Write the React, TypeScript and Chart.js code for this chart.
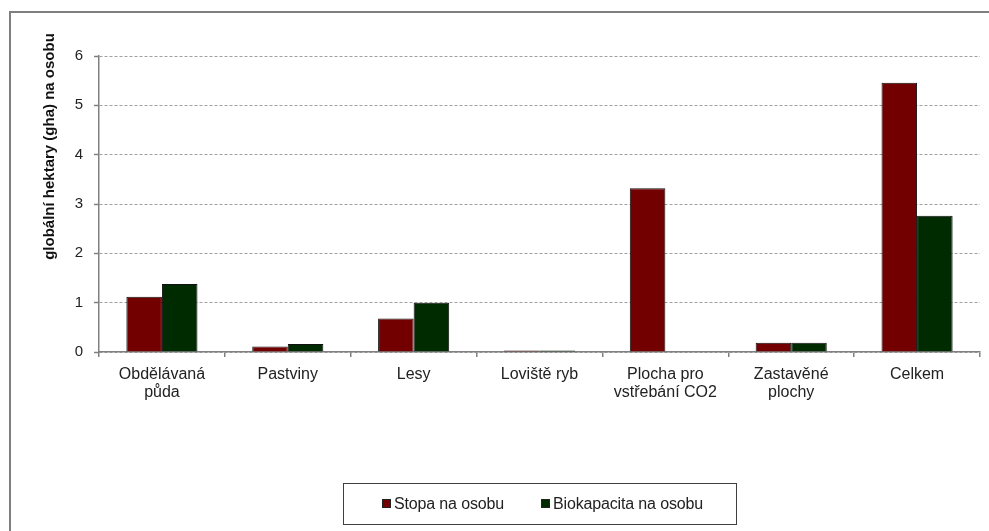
import React, { useEffect, useRef } from "react";
import { Chart, registerables } from "chart.js";

Chart.register(...registerables);

const categories: (string | string[])[] = [
  ["Obdělávaná", "půda"],
  "Pastviny",
  "Lesy",
  "Loviště ryb",
  ["Plocha pro", "vstřebání CO2"],
  ["Zastavěné", "plochy"],
  "Celkem",
];
const stopa = [1.12, 0.11, 0.68, 0.03, 3.32, 0.19, 5.46];
const biokapacita = [1.38, 0.16, 1.0, 0.03, 0, 0.19, 2.76];
const seriesNames = ["Stopa na osobu", "Biokapacita na osobu"];
const yTitle = "globální hektary (gha) na osobu";
const yMin = 0;
const yMax = 6;
const yStep = 1;

const RED = "#720000";
const GREEN = "#002a00";
const FONT = "'Liberation Sans', Arial, sans-serif";

export default function App() {
  const ref = useRef<HTMLCanvasElement | null>(null);

  useEffect(() => {
    if (!ref.current) return;
    const titlePlugin = {
      id: "yTitle",
      afterDraw(chart: any) {
        const ctx = chart.ctx;
        ctx.save();
        ctx.translate(50, 146.5);
        ctx.rotate(-Math.PI / 2);
        ctx.font = `bold 15px ${FONT}`;
        ctx.fillStyle = "#111";
        ctx.textAlign = "center";
        ctx.textBaseline = "middle";
        ctx.fillText(yTitle, 0, 0);
        ctx.restore();
      },
    };
    const chart = new Chart(ref.current, {
      type: "bar",
      data: {
        labels: categories,
        datasets: [
          {
            label: seriesNames[0],
            data: stopa,
            backgroundColor: RED,
            borderColor: "#111",
            borderWidth: 1,
          },
          {
            label: seriesNames[1],
            data: biokapacita,
            backgroundColor: GREEN,
            borderColor: "#111",
            borderWidth: 1,
          },
        ],
      },
      options: {
        animation: false,
        responsive: false,
        maintainAspectRatio: false,
        devicePixelRatio: 1,
        datasets: { bar: { categoryPercentage: 0.565, barPercentage: 1 } },
        layout: { padding: { left: 0, top: 56, right: 9, bottom: 0 } },
        plugins: { legend: { display: false }, tooltip: { enabled: false }, title: { display: false } },
        scales: {
          x: {
            afterFit(scale: any) {
              scale.height = 179;
            },
            grid: {
              offset: true,
              drawOnChartArea: false,
              drawTicks: true,
              tickLength: 5,
              color: "#808080",
              lineWidth: 1.5,
            },
            border: { color: "#808080", width: 1.5 },
            ticks: {
              padding: 9,
              color: "#222",
              maxRotation: 0,
              autoSkip: false,
              font: { family: FONT, size: 16, lineHeight: 1.1 },
            },
          },
          y: {
            min: yMin,
            max: yMax,
            afterFit(scale: any) {
              scale.width = 99;
            },
            grid: {
              color: "#a0a0a0",
              lineWidth: 1,
              drawTicks: true,
              tickLength: 5,
              tickColor: "#808080",
              tickWidth: 1.5,
              tickBorderDash: [],
            },
            border: { color: "#808080", width: 1.5, dash: [3, 2] },
            ticks: {
              stepSize: yStep,
              padding: 11,
              color: "#222",
              font: { family: FONT, size: 15 },
            },
          },
        },
      },
      plugins: [titlePlugin],
    });
    return () => chart.destroy();
  }, []);

  const swatch = (c: string) => ({
    display: "inline-block",
    width: 7,
    height: 7,
    background: c,
    border: "1px solid #222",
    marginRight: 3,
    verticalAlign: "middle",
    position: "relative" as const,
    top: -1,
  });

  return (
    <div
      style={{
        position: "fixed",
        left: 0,
        top: 0,
        width: 989,
        height: 531,
        overflow: "hidden",
        background: "#fff",
        fontFamily: FONT,
      }}
    >
      <div
        style={{
          position: "absolute",
          left: 9,
          top: 11,
          width: 1100,
          height: 700,
          border: "2px solid #7f7f7f",
        }}
      />
      <canvas ref={ref} width={989} height={531} style={{ position: "absolute", left: 0, top: 0 }} />
      <div
        style={{
          position: "absolute",
          left: 343,
          top: 483,
          width: 392,
          height: 40,
          border: "1.5px solid #404040",
          fontSize: 16,
          color: "#222",
          lineHeight: "40px",
          whiteSpace: "nowrap",
        }}
      >
        <span style={{ position: "absolute", left: 38, top: 0, letterSpacing: -0.15 }}>
          <span style={swatch(RED)} />
          {seriesNames[0]}
        </span>
        <span style={{ position: "absolute", left: 197, top: 0, letterSpacing: -0.15 }}>
          <span style={swatch(GREEN)} />
          {seriesNames[1]}
        </span>
      </div>
    </div>
  );
}
